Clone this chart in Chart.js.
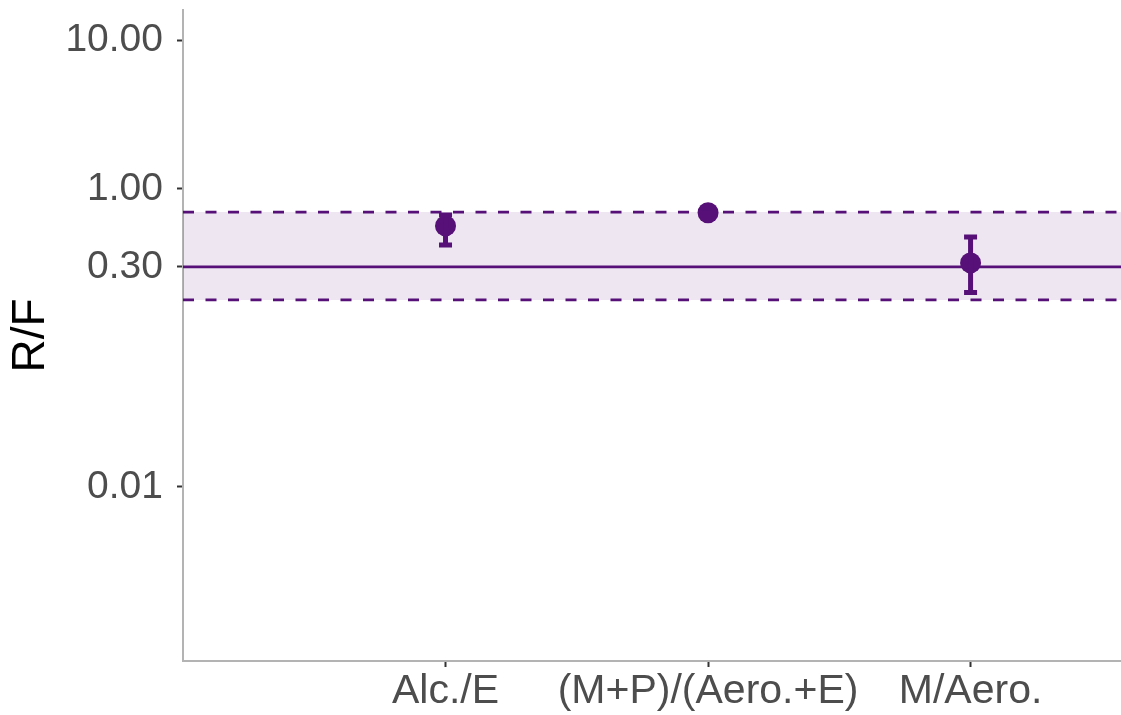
<!DOCTYPE html>
<html>
<head>
<meta charset="utf-8">
<script src="https://cdn.jsdelivr.net/npm/chart.js@4.4.1/dist/chart.umd.min.js"></script>
<style>
  html, body { margin: 0; padding: 0; background: #fff; }
  canvas { display: block; }
</style>
</head>
<body>
<canvas id="ratioChart" width="1121" height="715"></canvas>
<script>
// groups on the x axis
const categories = ['Alc./E', '(M+P)/(Aero.+E)', 'M/Aero.'];
// R/F estimate per group, with interval bounds (null = no bar)
const ratio = [0.565, 0.693, 0.319];
const ratioLow = [0.421, null, 0.202];
const ratioHigh = [0.669, null, 0.476];
// reference band: mean and dashed limits
const refMean = 0.30;
const refLow = 0.18;
const refHigh = 0.70;
// y tick values
const yTicks = [0.01, 0.3, 1, 10];

const purple = '#561078';
const font = '"Liberation Sans", Arial, Helvetica, sans-serif';
const xMin = 0;
const xMax = 3.573;

const ctx = document.getElementById('ratioChart');

const errorBars = {
  id: 'errorBars',
  afterDatasetsDraw(chart) {
    const c = chart.ctx;
    const xs = chart.scales.x;
    const ys = chart.scales.y;
    c.save();
    c.strokeStyle = purple;
    c.lineWidth = 5;
    c.lineCap = 'butt';
    for (let i = 0; i < categories.length; i++) {
      if (ratioLow[i] == null) continue;
      const x = xs.getPixelForValue(i + 1);
      const yLo = ys.getPixelForValue(ratioLow[i]);
      const yHi = ys.getPixelForValue(ratioHigh[i]);
      c.beginPath();
      c.moveTo(x, yLo);
      c.lineTo(x, yHi);
      c.moveTo(x - 6.5, yLo);
      c.lineTo(x + 6.5, yLo);
      c.moveTo(x - 6.5, yHi);
      c.lineTo(x + 6.5, yHi);
      c.stroke();
    }
    c.restore();
  }
};

// drop the label overhang padding so the plot area fills the canvas edges
const noOverhang = s => {
  s.paddingTop = 0;
  s.paddingBottom = 0;
  s.paddingLeft = 0;
  s.paddingRight = 0;
};

new Chart(ctx, {
  type: 'scatter',
  data: {
    datasets: [
      {
        type: 'line',
        data: [{x: xMin, y: refHigh}, {x: xMax, y: refHigh}],
        borderColor: purple,
        borderWidth: 2.7,
        borderDash: [11, 11.5],
        backgroundColor: 'rgba(86, 16, 120, 0.1)',
        fill: '+1',
        pointRadius: 0
      },
      {
        type: 'line',
        data: [{x: xMin, y: refLow}, {x: xMax, y: refLow}],
        borderColor: purple,
        borderWidth: 2.7,
        borderDash: [11, 11.5],
        fill: false,
        pointRadius: 0
      },
      {
        type: 'line',
        data: [{x: xMin, y: refMean}, {x: xMax, y: refMean}],
        borderColor: purple,
        borderWidth: 2.7,
        fill: false,
        pointRadius: 0
      },
      {
        data: categories.map((c, i) => ({x: i + 1, y: ratio[i]})),
        backgroundColor: purple,
        borderColor: purple,
        pointRadius: 10.5,
        borderWidth: 0
      }
    ]
  },
  options: {
    responsive: false,
    animation: false,
    devicePixelRatio: 1,
    layout: { autoPadding: false, padding: { top: 10, right: 0, bottom: 0, left: 0 } },
    plugins: {
      legend: { display: false },
      tooltip: { enabled: false }
    },
    scales: {
      x: {
        type: 'linear',
        min: xMin,
        max: xMax,
        afterBuildTicks: s => { s.ticks = categories.map((c, i) => ({ value: i + 1 })); },
        afterFit: s => { s.height = 54; noOverhang(s); },
        ticks: {
          callback: v => categories[v - 1],
          font: { family: font, size: 41 },
          color: '#4d4d4d',
          padding: 0,
          maxRotation: 0,
          autoSkip: false
        },
        grid: { drawOnChartArea: false, tickLength: 6, tickColor: '#333333', tickWidth: 2 },
        border: { color: '#b3b3b3', width: 2 }
      },
      y: {
        type: 'logarithmic',
        min: 0.000679,
        max: 15.9,
        afterBuildTicks: s => { s.ticks = yTicks.map(v => ({ value: v })); },
        afterFit: s => { s.width = 183; noOverhang(s); },
        ticks: {
          callback: v => Number(v).toFixed(2),
          font: { family: font, size: 39 },
          color: '#4d4d4d',
          padding: 14,
          autoSkip: false
        },
        grid: { drawOnChartArea: false, tickLength: 6, tickColor: '#333333', tickWidth: 2 },
        border: { color: '#b3b3b3', width: 2 },
        title: {
          display: true,
          text: 'R/F',
          font: { family: font, size: 46 },
          color: '#000000',
          padding: { top: 4, bottom: 0 }
        }
      }
    }
  },
  plugins: [errorBars]
});
</script>
</body>
</html>
